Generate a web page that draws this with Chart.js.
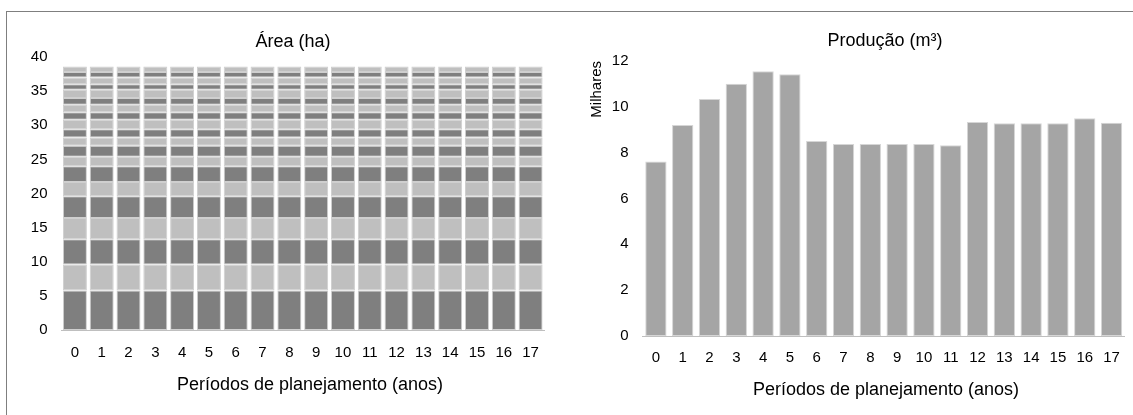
<!DOCTYPE html>
<html lang="pt">
<head>
<meta charset="utf-8">
<title>Área e produção por período de planejamento</title>
<script src="https://cdn.jsdelivr.net/npm/chart.js@4.4.1/dist/chart.umd.min.js"></script>
<style>
  html, body { margin: 0; padding: 0; background: #fff; }
  #page {
    position: relative; width: 1133px; height: 415px; overflow: hidden;
    font-family: "Liberation Sans", Arial, sans-serif; color: #000;
  }
  #frame {
    position: absolute; left: 6px; top: 11px; width: 1200px; height: 500px;
    border-top: 1px solid #7f7f7f; border-left: 1px solid #7f7f7f;
  }
  .heading {
    position: absolute; transform: translate(-50%, -50%);
    white-space: nowrap; font-size: 18px; line-height: 1;
  }
  #areaBox { position: absolute; left: 0; top: 0; width: 560px; height: 415px; }
  #prodBox { position: absolute; left: 560px; top: 0; width: 573px; height: 415px; }
</style>
</head>
<body>
<div id="page">
  <div id="frame"></div>
  <div id="areaBox"><canvas id="areaChart" width="560" height="415"></canvas></div>
  <div id="prodBox"><canvas id="prodChart" width="573" height="415"></canvas></div>
  <div class="heading" style="left:293px; top:41px;">Área (ha)</div>
  <div class="heading" style="left:885px; top:40px;">Produção (m³)</div>
  <div class="heading" style="left:310px; top:384px;">Períodos de planejamento (anos)</div>
  <div class="heading" style="left:886px; top:389px;">Períodos de planejamento (anos)</div>
</div>
<script>
// Planning periods (years)
const periods = ['0', '1', '2', '3', '4', '5', '6', '7', '8', '9', '10', '11', '12', '13', '14', '15', '16', '17'];

// Area of each management block (ha), stacked bottom to top; same in every period
const blockAreas = [5.8, 3.8, 3.7, 3.1, 3.2, 2.1, 2.3, 1.4, 1.6, 1.2, 1.2, 1.4, 1.1, 1.1, 1.0, 1.2, 0.8, 1.0, 0.8, 0.8];

// Timber production per period (thousand m³)
const production = [7.62, 9.21, 10.34, 11.01, 11.55, 11.42, 8.51, 8.38, 8.38, 8.38, 8.38, 8.32, 9.34, 9.28, 9.28, 9.28, 9.50, 9.31];

// Axis tick settings
const areaTicks = { min: 0, max: 40, step: 5 };
const prodTicks = { min: 0, max: 12, step: 2 };

const FONT = '"Liberation Sans", Arial, sans-serif';
const DARK = '#7f7f7f';
const LIGHT = '#bfbfbf';

const common = {
  responsive: false,
  animation: false,
  devicePixelRatio: 1,
  plugins: { legend: { display: false }, tooltip: { enabled: false }, title: { display: false } }
};

// Category axis: fixed box height so the plot bottom lands where the padding puts it
function xAxis(pad) {
  return {
    stacked: true,
    grid: { display: false, drawTicks: false },
    border: { display: true, color: '#bfbfbf', width: 1 },
    ticks: { color: '#000', font: { family: FONT, size: 15 }, padding: pad, maxRotation: 0, autoSkip: false },
    afterFit(scale) { scale.height = 40; }
  };
}

function yAxis(t, width) {
  return {
    stacked: true,
    min: t.min, max: t.max,
    grid: { display: false, drawTicks: false },
    border: { display: false },
    ticks: { stepSize: t.step, color: '#000', font: { family: FONT, size: 15 }, padding: 14 },
    afterFit(scale) { scale.width = width; }
  };
}

// Stacked area blocks
new Chart(document.getElementById('areaChart'), {
  type: 'bar',
  data: {
    labels: periods,
    datasets: blockAreas.map((ha, i) => ({
      label: 'Bloco ' + (i + 1),
      data: periods.map(() => ha),
      backgroundColor: i % 2 === 0 ? DARK : LIGHT,
      borderColor: '#cfcfcf',
      borderWidth: 1,
      borderSkipped: false,
      barPercentage: 0.895,
      categoryPercentage: 1
    }))
  },
  options: {
    ...common,
    layout: { padding: { left: 0, right: 16, top: 57, bottom: 45 } },
    scales: { x: xAxis(14), y: yAxis(areaTicks, 61.5) }
  }
});

// Production bars
const prodY = yAxis(prodTicks, 82.5);
prodY.title = {
  display: true, text: 'Milhares', align: 'end', color: '#000',
  font: { family: FONT, size: 15 }, padding: { top: 28, bottom: 0 }
};

new Chart(document.getElementById('prodChart'), {
  type: 'bar',
  data: {
    labels: periods,
    datasets: [{
      label: 'Produção (m³)',
      data: production,
      backgroundColor: '#a5a5a5',
      borderColor: '#d6d6d6',
      borderWidth: 1,
      borderSkipped: false,
      barPercentage: 0.795,
      categoryPercentage: 1
    }]
  },
  options: {
    ...common,
    layout: { padding: { left: 0, right: 4, top: 61, bottom: 39 } },
    scales: { x: xAxis(13), y: prodY }
  }
});
</script>
</body>
</html>
